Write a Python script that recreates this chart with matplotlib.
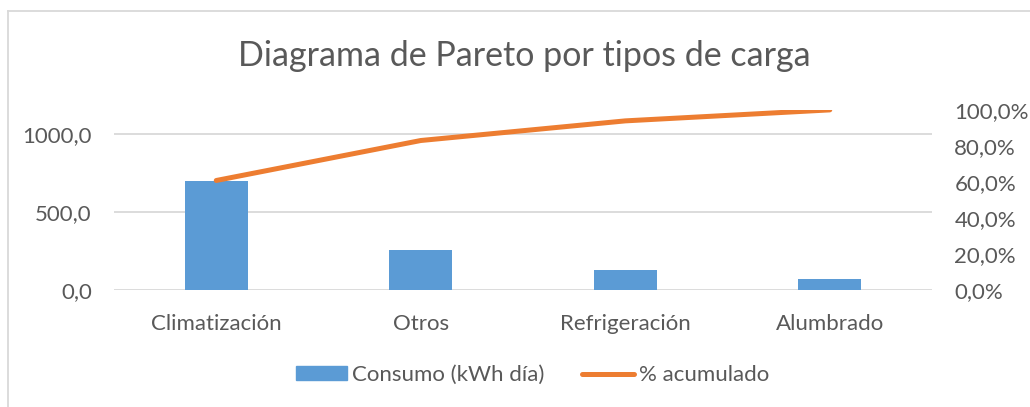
import matplotlib.pyplot as plt
from matplotlib.lines import Line2D
from matplotlib.patches import Patch
from matplotlib.ticker import FuncFormatter

categories = ['Climatización', 'Otros', 'Refrigeración', 'Alumbrado']
consumo = [703.0, 256.0, 128.0, 70.0]
acumulado = [60.8, 83.0, 93.9, 100.0]

plt.rcParams['font.family'] = ['Lato', 'DejaVu Sans']
TXT = '#595959'
BLUE = '#5B9BD5'
ORANGE = '#ED7D31'
GRID = '#D9D9D9'

fig = plt.figure(figsize=(10.3, 4.07), dpi=100)
ax = fig.add_axes([0.1107, 0.2875, 0.7942, 0.4425])

x = list(range(len(categories)))
ax.bar(x, consumo, width=0.31, color=BLUE, zorder=2)
ax.set_xlim(-0.5, 3.5)
ax.set_ylim(0, sum(consumo))
ax.set_yticks([0, 500, 1000])
ax.yaxis.set_major_formatter(FuncFormatter(lambda v, p: f'{v:.1f}'.replace('.', ',')))
ax.set_xticks(x)
ax.set_xticklabels(categories)
ax.grid(axis='y', color=GRID, linewidth=1.3, zorder=0)
for s in ax.spines.values():
    s.set_visible(False)
ax.tick_params(length=0, colors=TXT, labelsize=16)
ax.tick_params(axis='x', pad=17)
ax.tick_params(axis='y', pad=16)

ax2 = ax.twinx()
ax2.plot(x, acumulado, color=ORANGE, linewidth=3.6, solid_capstyle='round', zorder=3)
ax2.set_ylim(0, 100)
ax2.set_yticks([0, 20, 40, 60, 80, 100])
ax2.yaxis.set_major_formatter(FuncFormatter(lambda v, p: f'{v:.1f}%'.replace('.', ',')))
for s in ax2.spines.values():
    s.set_visible(False)
ax2.tick_params(length=0, colors=TXT, labelsize=16, pad=16)

fig.text(0.509, 0.862, 'Diagrama de Pareto por tipos de carga', ha='center', va='center',
         fontsize=24.5, color=TXT)

handles = [Patch(color=BLUE), Line2D([0], [0], color=ORANGE, linewidth=3.6, solid_capstyle='round')]
fig.legend(handles, ['Consumo (kWh día)', '% acumulado'], loc='center', bbox_to_anchor=(0.517, 0.078),
           ncol=2, frameon=False, fontsize=16, labelcolor=TXT, handlelength=2.3, handleheight=0.6,
           handletextpad=0.25, columnspacing=1.7)

# chart border (top and left visible)
fig.add_artist(Line2D([0.008, 1.0], [0.973, 0.973], color=GRID, linewidth=1.3, transform=fig.transFigure))
fig.add_artist(Line2D([0.008, 0.008], [0.0, 0.973], color=GRID, linewidth=1.3, transform=fig.transFigure))

fig.savefig('out.png', dpi=100)
